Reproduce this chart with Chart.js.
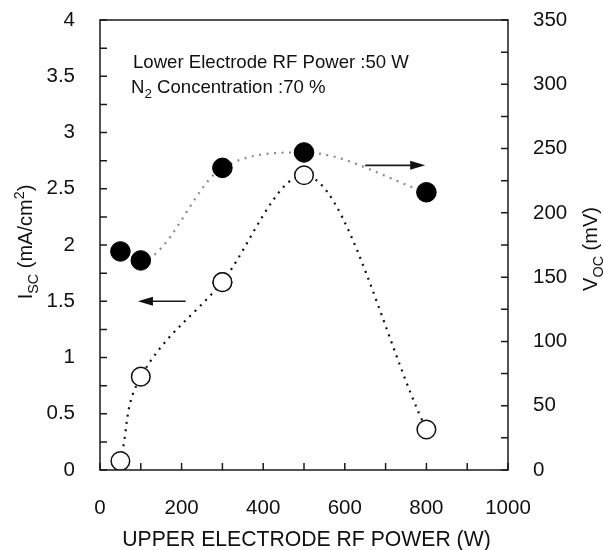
<!DOCTYPE html>
<html>
<head>
<meta charset="utf-8">
<script src="https://cdn.jsdelivr.net/npm/chart.js@4/dist/chart.umd.min.js"></script>
<style>
  html, body { margin: 0; padding: 0; background: #fff; }
  #wrap { width: 603px; height: 550px; position: relative; }
</style>
</head>
<body>
<div id="wrap"><canvas id="c" width="603" height="550"></canvas></div>
<script>
// ---- data ----
const power = [50, 100, 300, 500, 800];            // upper electrode RF power (W)
const isc = [0.08, 0.83, 1.67, 2.62, 0.36];        // open circles, left axis (mA/cm2)
const voc = [170, 163, 235, 247, 216];             // filled circles, right axis (mV)
const xTicks = [0, 200, 400, 600, 800, 1000];
const iscTicks = [0, 0.5, 1, 1.5, 2, 2.5, 3, 3.5, 4];
const vocTicks = [0, 50, 100, 150, 200, 250, 300, 350];
const arrowIsc = [[210, 1.5], [93, 1.5]];
const arrowVoc = [[650, 237], [797, 237]];
const noteLines = ['Lower Electrode RF Power :50 W', 'Concentration :70 %'];

const FONT = '"Liberation Sans", Arial, Helvetica, sans-serif';

function pts(vals, from, to) {
  return power.slice(from, to).map((p, i) => ({ x: p, y: vals[from + i] }));
}

function richText(ctx, segs, x, y, size, align) {
  const parts = segs.map(([t, k]) => {
    const fs = k ? size * 0.72 : size;
    ctx.font = fs + 'px ' + FONT;
    return { t, k, fs, w: ctx.measureText(t).width };
  });
  const total = parts.reduce((a, p) => a + p.w, 0);
  let cx = align === 'center' ? x - total / 2 : x;
  ctx.textAlign = 'left';
  ctx.textBaseline = 'alphabetic';
  for (const p of parts) {
    ctx.font = p.fs + 'px ' + FONT;
    const dy = p.k === 'sub' ? size * 0.28 : (p.k === 'sup' ? -size * 0.42 : 0);
    ctx.fillText(p.t, cx, y + dy);
    cx += p.w;
  }
}

const decor = {
  id: 'decor',
  afterDraw(chart) {
    const { ctx, chartArea: a, scales } = chart;
    const xs = scales.x, ys = scales.y, y2 = scales.y2;
    ctx.save();
    ctx.strokeStyle = '#1a1a1a';
    ctx.lineWidth = 1.5;
    ctx.beginPath();
    xs.ticks.forEach(t => { const p = xs.getPixelForValue(t.value); ctx.moveTo(p, a.bottom); ctx.lineTo(p, a.bottom - 7); });
    ys.ticks.forEach(t => { const p = ys.getPixelForValue(t.value); ctx.moveTo(a.left, p); ctx.lineTo(a.left + 7, p); });
    y2.ticks.forEach(t => { const p = y2.getPixelForValue(t.value); ctx.moveTo(a.right, p); ctx.lineTo(a.right - 7, p); });
    ctx.stroke();
    ctx.strokeRect(a.left, a.top, a.right - a.left, a.bottom - a.top);

    function arrow(p2, scale) {
      const x0 = xs.getPixelForValue(p2[0][0]), y0 = scale.getPixelForValue(p2[0][1]);
      const x1 = xs.getPixelForValue(p2[1][0]), y1 = scale.getPixelForValue(p2[1][1]);
      const dir = Math.sign(x1 - x0);
      ctx.beginPath();
      ctx.lineWidth = 1.7;
      ctx.moveTo(x0, y0); ctx.lineTo(x1 - dir * 10, y1); ctx.stroke();
      ctx.beginPath();
      ctx.fillStyle = '#111';
      ctx.moveTo(x1, y1); ctx.lineTo(x1 - dir * 15, y1 - 4.5); ctx.lineTo(x1 - dir * 15, y1 + 4.5); ctx.closePath(); ctx.fill();
    }
    arrow(arrowIsc, ys);
    arrow(arrowVoc, y2);

    ctx.fillStyle = '#111';
    ctx.font = '18.6px ' + FONT;
    ctx.textAlign = 'left';
    ctx.textBaseline = 'alphabetic';
    ctx.fillText(noteLines[0], 133, 68);
    richText(ctx, [['N', ''], ['2', 'sub'], [' ' + noteLines[1], '']], 131, 93, 18.6, 'left');

    ctx.fillStyle = '#111';
    ctx.font = '21.2px ' + FONT;
    ctx.textAlign = 'center';
    ctx.fillText('UPPER ELECTRODE RF POWER (W)', 306.5, 546);

    ctx.save();
    ctx.translate(32, 242);
    ctx.rotate(-Math.PI / 2);
    richText(ctx, [['I', ''], ['SC', 'sub'], [' (mA/cm', ''], ['2', 'sup'], [')', '']], 0, 0, 20, 'center');
    ctx.restore();

    ctx.save();
    ctx.translate(597, 249);
    ctx.rotate(-Math.PI / 2);
    richText(ctx, [['V', ''], ['OC', 'sub'], [' (mV)', '']], 0, 0, 20, 'center');
    ctx.restore();

    ctx.restore();
  }
};

const tickFont = { family: FONT, size: 20.5 };
function labelIf(list) {
  return v => list.some(t => Math.abs(t - v) < 1e-9) ? String(v) : '';
}
function fitV(w) {
  return s => { s.width = w; s.paddingTop = 0; s.paddingBottom = 0; };
}

const vocStyle = {
  yAxisID: 'y2', borderColor: '#8c8c8c', borderWidth: 2.2, borderDash: [2, 5.5],
  pointRadius: 9.8, pointBackgroundColor: '#000', pointBorderColor: '#000', pointBorderWidth: 1, fill: false
};
const iscStyle = {
  yAxisID: 'y', borderColor: '#111', borderWidth: 2.2, borderDash: [2, 5.5],
  pointRadius: 9.3, pointBackgroundColor: '#fff', pointBorderColor: '#111', pointBorderWidth: 1.5, fill: false
};

new Chart(document.getElementById('c'), {
  type: 'line',
  data: {
    datasets: [
      Object.assign({ label: 'Voc', data: pts(voc, 0, 5), cubicInterpolationMode: 'monotone' }, vocStyle),
      Object.assign({ label: 'Isc', data: pts(isc, 0, 3), tension: 0.4 }, iscStyle),
      Object.assign({ label: 'Isc', data: pts(isc, 2, 5), cubicInterpolationMode: 'monotone' }, iscStyle)
    ]
  },
  options: {
    responsive: false,
    animation: false,
    devicePixelRatio: 1,
    layout: { padding: { top: 20, left: 0, right: 0, bottom: 0 } },
    plugins: { legend: { display: false }, tooltip: { enabled: false } },
    scales: {
      x: {
        type: 'linear', min: 0, max: 1000,
        grid: { display: false }, border: { display: false },
        ticks: { stepSize: 100, autoSkip: false, maxRotation: 0, padding: 18, color: '#111', font: tickFont, callback: labelIf(xTicks) },
        afterFit(s) { s.height = 80; s.paddingLeft = 0; s.paddingRight = 0; }
      },
      y: {
        type: 'linear', position: 'left', min: 0, max: 4,
        grid: { display: false }, border: { display: false },
        ticks: { stepSize: 0.25, autoSkip: false, padding: 17, color: '#111', font: tickFont, callback: labelIf(iscTicks) },
        afterFit: fitV(100)
      },
      y2: {
        type: 'linear', position: 'right', min: 0, max: 350,
        grid: { display: false }, border: { display: false },
        ticks: { stepSize: 25, autoSkip: false, padding: 17, color: '#111', font: tickFont, callback: labelIf(vocTicks) },
        afterFit: fitV(95)
      }
    }
  },
  plugins: [decor]
});
</script>
</body>
</html>
